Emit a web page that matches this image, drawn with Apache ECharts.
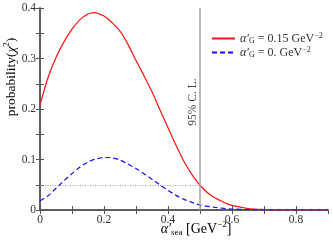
<!DOCTYPE html>
<html><head><meta charset="utf-8">
<script src="https://cdn.jsdelivr.net/npm/echarts@6/dist/echarts.min.js"></script>
<style>html,body{margin:0;padding:0;background:#fff}#c{width:333px;height:243px}</style>
</head><body><div id="c"></div>
<script>
const xRed = [0,0.025,0.05,0.075,0.1,0.125,0.15,0.167,0.2,0.225,0.25,0.275,0.3,0.325,0.35,0.375,0.4,0.425,0.45,0.475,0.5,0.536,0.575,0.6,0.65,0.7,0.75,0.8,0.9];
const yRed = [0.208,0.262,0.302,0.333,0.358,0.377,0.388,0.391,0.384,0.371,0.354,0.328,0.296,0.266,0.234,0.198,0.163,0.128,0.096,0.070,0.049,0.028,0.015,0.009,0.003,0.001,0.0003,0,0];
const xBlue = [0,0.025,0.05,0.075,0.1,0.125,0.15,0.175,0.2,0.225,0.25,0.275,0.3,0.325,0.35,0.375,0.4,0.425,0.45,0.475,0.5,0.55,0.6,0.65,0.7,0.9];
const yBlue = [0.018,0.028,0.043,0.058,0.072,0.085,0.095,0.101,0.104,0.103,0.099,0.091,0.082,0.072,0.061,0.0495,0.039,0.029,0.021,0.015,0.010,0.005,0.002,0.001,0,0];
const clX = 0.5;
const clY = 0.05;
const xTicks = {min:0, max:0.9, interval:0.1};
const yTicks = {min:0, max:0.4, interval:0.05};

const pairs = (xs, ys) => xs.map((x,i)=>[x, ys[i]]);
const serif = '"Liberation Serif","DejaVu Serif",serif';
const chart = echarts.init(document.getElementById('c'), null, {renderer:'canvas'});
const axisLine = {show:true, lineStyle:{color:'#555', width:1.5}};
const tick = {show:true, inside:true, length:4, lineStyle:{color:'#555', width:1}};
const xLab = v => (Math.round(v*10)%2===0 ? (v===0?'0':v.toFixed(1)) : '');
const yLab = v => (Math.round(v*20)%2===0 ? (v===0?'0':v.toFixed(1)) : '');
const rich = {
  a:{fontFamily:serif, fontSize:12, color:'#333', fontStyle:'italic', lineHeight:13},
  s:{fontFamily:serif, fontSize:8, color:'#333', verticalAlign:'bottom', lineHeight:13},
  p:{fontFamily:serif, fontSize:8, color:'#333', verticalAlign:'top', lineHeight:13},
  t:{fontFamily:serif, fontSize:12, color:'#333', lineHeight:13}
};
const names = ['red','blue'];
const legendText = {red:'{a|α′}{s|G}{t| = 0.15 GeV}{p|−2}', blue:'{a|α′}{s|G}{t| = 0. GeV}{p|−2}'};
chart.setOption({
  animation:false,
  grid:{left:40, right:5, top:8, bottom:33},
  xAxis:[
    {type:'value', ...xTicks, axisLine, axisTick:tick, splitLine:{show:false},
     axisLabel:{formatter:xLab, margin:4, fontFamily:serif, fontSize:11.5, color:'#333', showMaxLabel:false}},
    {type:'value', position:'top', ...xTicks, axisLine, axisTick:tick, splitLine:{show:false}, axisLabel:{show:false}}
  ],
  yAxis:[
    {type:'value', ...yTicks, axisLine, axisTick:tick, splitLine:{show:false},
     axisLabel:{formatter:yLab, margin:4, fontFamily:serif, fontSize:11.5, color:'#333'}},
    {type:'value', position:'right', ...yTicks, axisLine, axisTick:tick, splitLine:{show:false}, axisLabel:{show:false}}
  ],
  legend:{
    left:206, top:27, orient:'vertical', itemGap:1, itemWidth:23, itemHeight:10,
    data:names, formatter:n=>legendText[n],
    itemStyle:{opacity:0},
    textStyle:{rich, fontFamily:serif, fontSize:12}
  },
  series:[
    {name:'red', type:'line', data:pairs(xRed,yRed), smooth:0.3, symbol:'none',
     lineStyle:{color:'#ff1010', width:1.2}, itemStyle:{color:'#ff1010'},
     markLine:{silent:true, symbol:'none', label:{show:false},
       data:[
         [{coord:[0,clY], lineStyle:{color:'#999', type:[1,1.5], width:1}},{coord:[clX,clY]}],
         [{coord:[clX,0], lineStyle:{color:'#aaa', type:'solid', width:1.6}},{coord:[clX,0.4]}]
       ]}},
    {name:'blue', type:'line', data:pairs(xBlue,yBlue), smooth:0.3, symbol:'none',
     lineStyle:{color:'#1010ff', width:1.2, type:[5,3]}, itemStyle:{color:'#1010ff'}}
  ],
  graphic:[
    {type:'text', x:193, y:102, rotation:Math.PI/2,
     style:{text:'95% C. L.', font:'11.5px '+serif, fill:'#444', align:'center', verticalAlign:'middle'}},
    {type:'text', x:11, y:77, rotation:Math.PI/2,
     style:{text:'{t|probability(}{a|χ}{p|2}{t|)}', align:'center', verticalAlign:'middle',
       rich:{t:{fontFamily:serif,fontSize:13.5,color:'#555',lineHeight:17},a:{fontFamily:serif,fontSize:13.5,color:'#555',fontStyle:'italic',lineHeight:17},p:{fontFamily:serif,fontSize:9,color:'#555',verticalAlign:'top',lineHeight:17}}}},
    {type:'text', x:196, y:229,
     style:{text:'{a|α′}{s|sea}{t| [GeV}{p|−2}{t|]}', align:'center', verticalAlign:'middle',
       rich:{a:{fontFamily:serif,fontSize:14,color:'#555',fontStyle:'italic',lineHeight:17},t:{fontFamily:serif,fontSize:14,color:'#555',lineHeight:17},s:{fontFamily:serif,fontSize:9,color:'#555',verticalAlign:'bottom',lineHeight:17},p:{fontFamily:serif,fontSize:9,color:'#555',verticalAlign:'top',lineHeight:17}}}}
  ]
});
</script></body></html>
